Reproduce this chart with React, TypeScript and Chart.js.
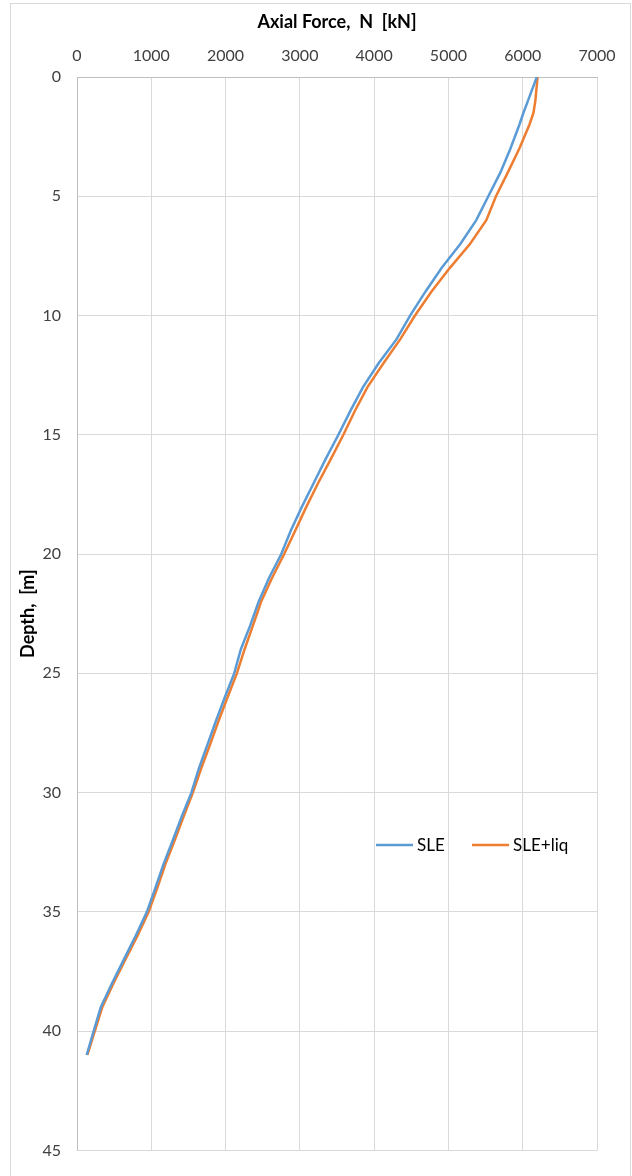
import React, { useEffect, useRef } from "react";
import { Chart, registerables } from "chart.js";

Chart.register(...registerables);

const FONT = "Lato, 'Open Sans', sans-serif";

// Depth below head [m]
const depth = [
  0, 0.5, 1, 1.5, 2, 3, 4, 5, 6, 7, 8, 9, 10, 11, 12, 13, 14, 15, 16, 17, 18, 19, 20,
  21, 22, 23, 24, 25, 26, 27, 28, 29, 30, 31, 32, 33, 34, 35, 36, 37, 38, 39, 40, 41,
];

// Axial force N [kN], SLE
const sle = [
  6190, 6130, 6070, 6010, 5955, 5835, 5700, 5537, 5375, 5160, 4910, 4690, 4484,
  4300, 4060, 3850, 3680, 3519, 3350, 3190, 3030, 2880, 2750,
  2585, 2445, 2331, 2205, 2116, 1990, 1870, 1755, 1640, 1540,
  1410, 1290, 1165, 1055, 941, 790, 630, 470, 320, 224, 130,
];

// Axial force N [kN], SLE + liquefaction
const sleLiq = [
  6200, 6185, 6170, 6145, 6090, 5955, 5800, 5640, 5510, 5290, 5020, 4770, 4550,
  4350, 4125, 3910, 3740, 3586, 3420, 3250, 3090, 2940, 2789,
  2625, 2478, 2368, 2255, 2152, 2027, 1905, 1790, 1670, 1560,
  1435, 1315, 1190, 1080, 965, 815, 650, 490, 340, 240, 140,
];

const seriesNames = ["SLE", "SLE+liq"];
const seriesColors = ["#5B9BD5", "#ED7D31"];

const xTitle = "Axial Force,  N  [kN]";
const yTitle = "Depth,  [m]";

export default function App() {
  const ref = useRef<HTMLCanvasElement>(null);

  useEffect(() => {
    document.body.style.margin = "0";
    const canvas = ref.current;
    if (!canvas) return;

    const framePlugin = {
      id: "frame",
      beforeDraw(chart: any) {
        const c = chart.ctx;
        c.save();
        c.fillStyle = "#ffffff";
        c.fillRect(0, 0, chart.width, chart.height);
        c.strokeStyle = "#d9d9d9";
        c.lineWidth = 1;
        c.strokeRect(10.5, 3.5, 620, 1200);
        c.restore();
      },
    };

    const legendPlugin = {
      id: "insideLegend",
      afterDraw(chart: any) {
        const c = chart.ctx;
        const y = 845;
        const starts = [376, 472];
        c.save();
        c.font = `17px ${FONT}`;
        c.textBaseline = "middle";
        c.fillStyle = "#000000";
        chart.data.datasets.forEach((ds: any, i: number) => {
          const x0 = starts[i];
          c.strokeStyle = ds.borderColor;
          c.lineWidth = 2.5;
          c.beginPath();
          c.moveTo(x0, y);
          c.lineTo(x0 + 37, y);
          c.stroke();
          c.fillText(ds.label, x0 + 41, y + 1);
        });
        c.restore();
      },
    };

    const mk = (vals: number[]) => vals.map((v, i) => ({ x: v, y: depth[i] }));

    const chart = new Chart(canvas, {
      type: "scatter",
      data: {
        datasets: [
          {
            label: seriesNames[0],
            data: mk(sle),
            showLine: true,
            borderColor: seriesColors[0],
            backgroundColor: seriesColors[0],
            borderWidth: 2.5,
            pointRadius: 0,
            tension: 0,
          },
          {
            label: seriesNames[1],
            data: mk(sleLiq),
            showLine: true,
            borderColor: seriesColors[1],
            backgroundColor: seriesColors[1],
            borderWidth: 2.5,
            pointRadius: 0,
            tension: 0,
          },
        ],
      },
      options: {
        responsive: false,
        animation: false,
        devicePixelRatio: 1,
        layout: { padding: { left: 0, right: 35, top: 0, bottom: 21 } },
        plugins: {
          legend: { display: false },
          tooltip: { enabled: false },
        },
        scales: {
          x: {
            type: "linear",
            position: "top",
            min: 0,
            max: 7000,
            ticks: {
              stepSize: 1000,
              color: "#404040",
              font: { family: FONT, size: 16 },
              padding: 12,
              callback: (v: any) => String(v),
            },
            grid: { color: "#d9d9d9", drawTicks: false },
            border: { color: "#bfbfbf" },
            title: {
              display: true,
              text: xTitle,
              color: "#000000",
              font: { family: FONT, size: 18, weight: "bold" },
              padding: { top: 11, bottom: 0 },
            },
            afterFit: (s: any) => {
              s.height = 77;
            },
          },
          y: {
            type: "linear",
            reverse: true,
            min: 0,
            max: 45,
            ticks: {
              stepSize: 5,
              color: "#404040",
              font: { family: FONT, size: 16 },
              padding: 16,
              callback: (v: any) => String(v),
            },
            grid: { color: "#d9d9d9", drawTicks: false },
            border: { color: "#bfbfbf" },
            title: {
              display: true,
              text: yTitle,
              color: "#000000",
              font: { family: FONT, size: 18, weight: "bold" },
              padding: { top: 17, bottom: 0 },
            },
            afterFit: (s: any) => {
              s.width = 77;
            },
          },
        },
      },
      plugins: [framePlugin, legendPlugin],
    } as any);

    return () => chart.destroy();
  }, []);

  return (
    <div style={{ position: "absolute", left: 0, top: 0, width: 632, height: 1176 }}>
      <canvas
        ref={ref}
        width={632}
        height={1176}
        style={{ display: "block", width: 632, height: 1176 }}
      />
    </div>
  );
}
